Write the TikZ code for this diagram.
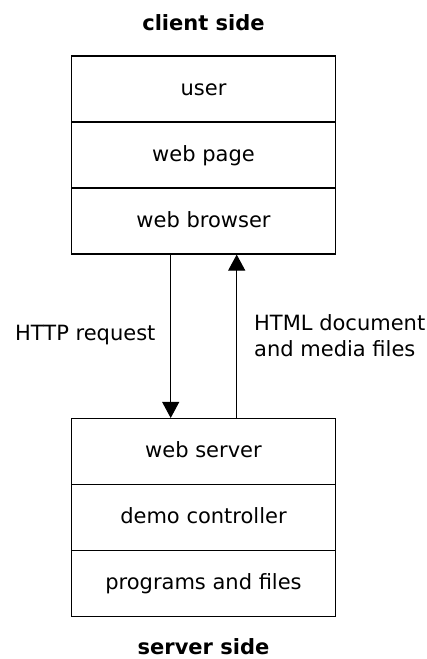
\documentclass[tikz,border=0pt]{standalone}
\usepackage{fontspec}
\setmainfont{DejaVu Sans}
\usetikzlibrary{arrows.meta}
\begin{document}
\begin{tikzpicture}[x=1pt,y=-1pt,
  layerbox/.style={draw, line width=1.1pt, minimum width=264pt, minimum height=66pt,
    inner sep=0pt, text height=12pt, text depth=0pt, font=\fontsize{21}{25}\selectfont},
  lbl/.style={inner sep=0pt, anchor=base west, font=\fontsize{21}{25}\selectfont},
  title/.style={inner sep=0pt, anchor=base, font=\fontsize{21}{25}\selectfont\bfseries},
  flow/.style={line width=1pt, -{Triangle[width=17pt,length=16pt]}}]
\useasboundingbox (0,0) rectangle (426,659);
\node[title] (ct) at (203.5,30.5) {client side};
\node[layerbox] (user) at (203.5,89) {user};
\node[layerbox] (page) at (203.5,155) {web page};
\node[layerbox] (browser) at (203.5,221) {web browser};
\node[layerbox] (server) at (203.5,451.5) {web server};
\node[layerbox] (ctrl) at (203.5,517.5) {demo controller};
\node[layerbox] (files) at (203.5,583.5) {programs and files};
\node[title] (st) at (203.5,654.5) {server side};
\coordinate (ax) at (170.7,0);
\coordinate (bx) at (236.7,0);
\draw[flow] (browser.south -| ax) -- (server.north -| ax);
\draw[flow] (server.north -| bx) -- (browser.south -| bx);
\node[lbl] (req) at (15,340.5) {HTTP request};
\node[lbl] (resp1) at (254,330) {HTML document};
\node[lbl] (resp2) at (254,356.7) {and media files};
\end{tikzpicture}
\end{document}
